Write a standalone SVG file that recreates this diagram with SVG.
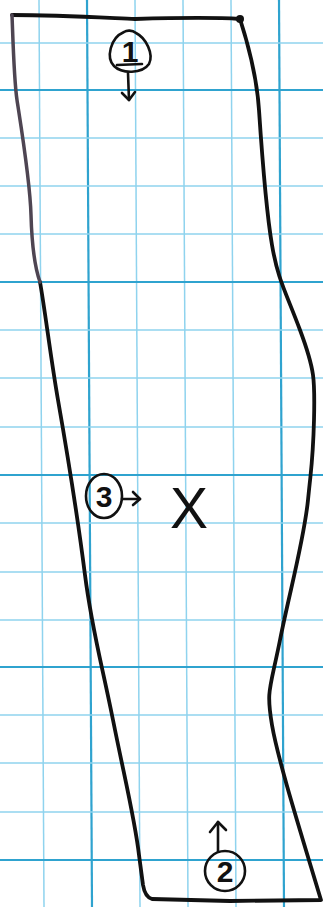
<svg xmlns="http://www.w3.org/2000/svg" width="323" height="907" viewBox="0 0 323 907">
<style>
.minor{stroke:#8fd3ee;stroke-width:1.5;fill:none}
.major{stroke:#2fa3cf;stroke-width:2.2;fill:none}
.ink{stroke:#111;stroke-width:3.8;fill:none;stroke-linecap:round;stroke-linejoin:round}
.pen{stroke:#111;stroke-width:2.6;fill:none;stroke-linecap:round;stroke-linejoin:round}
.num{font-family:"Liberation Sans",Arial,sans-serif;font-size:30px;fill:#111;text-anchor:middle}
</style>
<rect width="323" height="907" fill="#ffffff"/>
<g id="grid">
<line class="minor" x1="39" y1="0" x2="44" y2="907"/>
<line class="major" x1="87" y1="0" x2="92" y2="907"/>
<line class="minor" x1="135" y1="0" x2="140" y2="907"/>
<line class="minor" x1="183" y1="0" x2="188" y2="907"/>
<line class="minor" x1="231" y1="0" x2="236" y2="907"/>
<line class="major" x1="279" y1="0" x2="284" y2="907"/>
<line class="minor" x1="0" y1="43" x2="323" y2="43"/>
<line class="major" x1="0" y1="90" x2="323" y2="90"/>
<line class="minor" x1="0" y1="138" x2="323" y2="138"/>
<line class="minor" x1="0" y1="186" x2="323" y2="186"/>
<line class="minor" x1="0" y1="234" x2="323" y2="234"/>
<line class="major" x1="0" y1="282" x2="323" y2="282"/>
<line class="minor" x1="0" y1="330" x2="323" y2="330"/>
<line class="minor" x1="0" y1="378" x2="323" y2="378"/>
<line class="minor" x1="0" y1="427" x2="323" y2="427"/>
<line class="major" x1="0" y1="475" x2="323" y2="475"/>
<line class="minor" x1="0" y1="523" x2="323" y2="523"/>
<line class="minor" x1="0" y1="572" x2="323" y2="572"/>
<line class="minor" x1="0" y1="620" x2="323" y2="620"/>
<line class="major" x1="0" y1="667" x2="323" y2="667"/>
<line class="minor" x1="0" y1="715" x2="323" y2="715"/>
<line class="minor" x1="0" y1="763" x2="323" y2="763"/>
<line class="minor" x1="0" y1="812" x2="323" y2="812"/>
<line class="major" x1="0" y1="860" x2="323" y2="860"/>
</g>
<g id="outline">
<path class="ink" d="M12,15 C60,15 110,18 135,19 C170,18 210,17 240,19 C250,50 257,80 259,110 S266,210 272,245 S285,290 300,330 S315,380 314,420 S312,460 308,500 S290,590 280,640 S266,690 272,725 S300,830 321,900 L230,901 L152,899 Q145,897 143,885 L139,855 C135,820 125,780 113,720 S92,630 85,575 S65,440 58,400 S45,310 40,282"/>
<path d="M40,282 C35,268 32,250 31,215 S20,120 17,100 S13,40 12,15" stroke="#4e4552" stroke-width="3.5" fill="none" stroke-linecap="round" stroke-linejoin="round"/>
<circle cx="240" cy="19" r="4" fill="#111"/>
</g>
<g id="label1">
<path class="pen" d="M124,32 C110,38 106,58 114,66 C122,74 142,74 149,64 C154,54 146,38 136,33 C132,30 127,30 124,32 Z"/>
<text class="num" x="130" y="62" font-size="28" font-weight="bold">1</text>
<line class="pen" x1="117" y1="65" x2="142" y2="64"/>
<line class="pen" x1="128" y1="73" x2="129" y2="100"/>
<polyline class="pen" points="122,93 129,100 135,92"/>
</g>
<g id="label3">
<ellipse class="pen" cx="104" cy="496" rx="18" ry="22"/>
<text class="num" x="104" y="507" font-weight="bold">3</text>
<line class="pen" x1="122" y1="499" x2="140" y2="499"/>
<polyline class="pen" points="133,492 140,499 133,505"/>
</g>
<g id="markX">
<text x="189" y="528" font-family="'Liberation Sans',Arial,sans-serif" font-size="58" fill="#111" text-anchor="middle" textLength="38" lengthAdjust="spacingAndGlyphs">X</text>
</g>
<g id="label2">
<ellipse class="pen" cx="225" cy="871" rx="20" ry="20"/>
<text class="num" x="225" y="882" font-weight="bold">2</text>
<line class="pen" x1="218" y1="851" x2="218" y2="822"/>
<polyline class="pen" points="210,832 218,822 226,830"/>
</g>
</svg>
